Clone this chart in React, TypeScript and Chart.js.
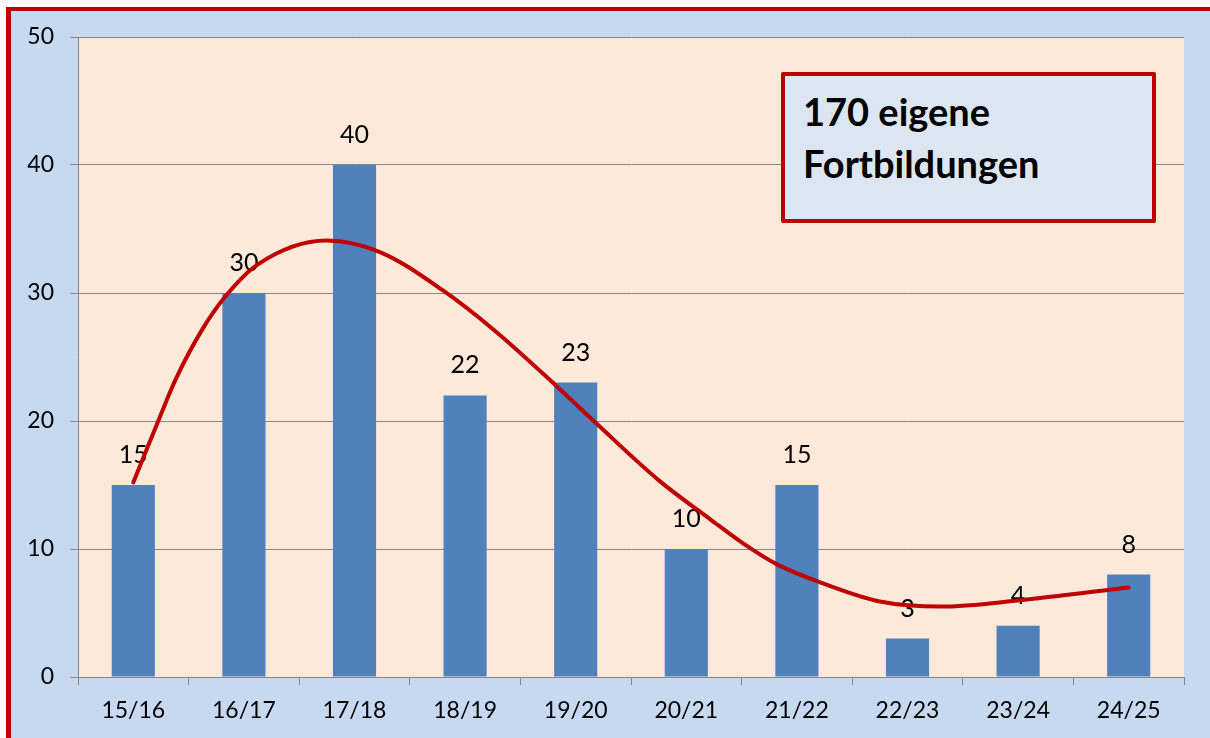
import React, { useEffect, useRef } from "react";
import { Chart, registerables } from "chart.js";

Chart.register(...registerables);

const categories = ["15/16", "16/17", "17/18", "18/19", "19/20", "20/21", "21/22", "22/23", "23/24", "24/25"];
const values = [15, 30, 40, 22, 23, 10, 15, 3, 4, 8];
// trend line (x in category-index units)
const trendX = [0, 0.23, 0.38, 0.62, 0.83, 1.12, 1.75, 2.23, 2.8, 3.29, 3.83, 4.2, 4.76, 5.22, 5.52, 5.82, 6.21, 6.75, 7.3, 8.02, 9.0];
const trendY = [15.2, 20.1, 23.2, 27.1, 29.7, 32.2, 34.1, 33.2, 30.2, 26.9, 22.7, 19.7, 15.3, 12.3, 10.4, 8.8, 7.4, 5.9, 5.5, 6.0, 7.0];
const yMin = 0;
const yMax = 50;
const yStep = 10;
const boxLines = ["170 eigene", "Fortbildungen"];

const FONT = "Lato, 'Open Sans', sans-serif";

export default function App() {
  const ref = useRef<HTMLCanvasElement | null>(null);

  useEffect(() => {
    if (!ref.current) return;
    const bgPlugin = {
      id: "plotBg",
      beforeDraw(chart: any) {
        const { ctx, chartArea } = chart;
        ctx.save();
        ctx.fillStyle = "#fde9d9";
        ctx.fillRect(chartArea.left, chartArea.top, chartArea.right - chartArea.left, chartArea.bottom - chartArea.top);
        ctx.restore();
      },
    };
    const labelPlugin = {
      id: "barLabels",
      afterDatasetDraw(chart: any, args: any) {
        if (args.index !== 0) return;
        const { ctx } = chart;
        const meta = chart.getDatasetMeta(0);
        ctx.save();
        ctx.fillStyle = "#000";
        ctx.font = `25px ${FONT}`;
        ctx.textAlign = "center";
        ctx.textBaseline = "alphabetic";
        meta.data.forEach((el: any, i: number) => {
          ctx.fillText(String(values[i]), el.x, el.y - 22);
        });
        ctx.restore();
      },
    };
    const chart = new Chart(ref.current, {
      type: "bar",
      data: {
        labels: categories,
        datasets: [
          {
            type: "bar",
            data: values,
            backgroundColor: "#4f81bd",
            borderWidth: 0,
            barPercentage: 0.39,
            categoryPercentage: 1,
            grouped: false,
            order: 1,
          } as any,
          {
            type: "line",
            data: trendX.map((x, i) => ({ x, y: trendY[i] })),
            xAxisID: "x2",
            borderColor: "#c00000",
            borderWidth: 4,
            borderCapStyle: "round",
            borderJoinStyle: "round",
            pointRadius: 0,
            cubicInterpolationMode: "monotone",
            fill: false,
            order: 0,
          } as any,
        ],
      },
      options: {
        animation: false,
        responsive: false,
        layout: { padding: { left: 0, top: 37, right: 26, bottom: 0 } },
        plugins: { legend: { display: false }, tooltip: { enabled: false } },
        scales: {
          x: {
            type: "category",
            offset: true,
            grid: { display: true, drawOnChartArea: false, drawTicks: true, tickLength: 8, color: "#868686", offset: true },
            border: { display: true, color: "#868686", width: 1 },
            ticks: { color: "#000", font: { family: FONT, size: 23 }, padding: 12, maxRotation: 0 },
            afterFit(scale: any) {
              scale.height = 61;
            },
          },
          x2: {
            type: "linear",
            display: false,
            offset: false,
            grid: { offset: false },
            min: -0.5,
            max: 9.5,
          },
          y: {
            min: yMin,
            max: yMax,
            ticks: { stepSize: yStep, color: "#000", font: { family: FONT, size: 23 }, padding: 16 },
            grid: { color: "#868686", tickLength: 8, lineWidth: 1 },
            border: { display: true, color: "#868686", width: 1 },
            afterFit(scale: any) {
              scale.width = 78;
            },
          },
        },
      } as any,
      plugins: [bgPlugin, labelPlugin],
    });
    return () => chart.destroy();
  }, []);

  return (
    <div style={{ position: "fixed", left: 0, top: 0, width: 1210, height: 738, background: "#fff", overflow: "hidden" }}>
      <div
        style={{
          position: "absolute",
          left: 6,
          top: 7,
          width: 1300,
          height: 800,
          borderTop: "4px solid #c00000",
          borderLeft: "5px solid #c00000",
          background: "#c6d9f1",
        }}
      />
      <canvas ref={ref} width={1210} height={738} style={{ position: "absolute", left: 0, top: 0, width: 1210, height: 738 }} />
      <div
        style={{
          position: "absolute",
          left: 781,
          top: 72,
          width: 375,
          height: 151,
          boxSizing: "border-box",
          border: "4px solid #c00000",
          borderRadius: 2,
          background: "#dce6f2",
          fontFamily: FONT,
          fontWeight: 700,
          fontSize: 38,
          lineHeight: "52px",
          color: "#000",
          padding: "9px 0 0 18px",
        }}
      >
        {boxLines.map((l, i) => (
          <div key={i}>{l}</div>
        ))}
      </div>
    </div>
  );
}
